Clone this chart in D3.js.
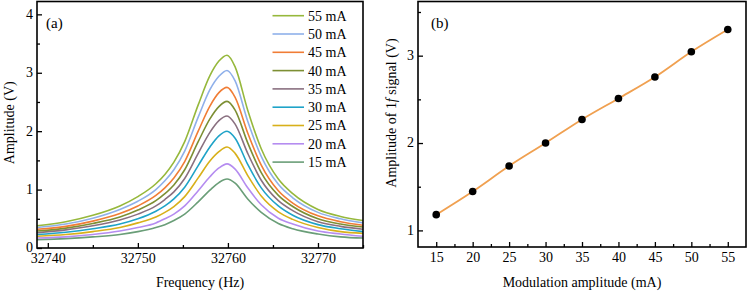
<!DOCTYPE html>
<html>
<head>
<meta charset="utf-8">
<script src="https://cdn.jsdelivr.net/npm/d3@7"></script>
<style>
  html, body { margin: 0; padding: 0; background: #fff; }
  svg { display: block; font-family: "Liberation Serif", "Times New Roman", serif; }
</style>
</head>
<body>
<svg id="chart" width="748" height="293"></svg>
<script>
// ---------- Data ----------
const freqs = [32738.8, 32742, 32745, 32748, 32750, 32752, 32753, 32754, 32755.2, 32756.7, 32758, 32759, 32759.9, 32760.8, 32762.2, 32763.7, 32765.6, 32767.2, 32770, 32772.5, 32775];

const seriesLabels = ["55 mA", "50 mA", "45 mA", "40 mA", "35 mA", "30 mA", "25 mA", "20 mA", "15 mA"];
const seriesColors = ["#96b83c", "#8fb0ea", "#f07d36", "#7d8f34", "#8a7080", "#1fa3c8", "#d8b01a", "#b58cf0", "#6a9e78"];

const amp55 = [0.38, 0.45, 0.56, 0.72, 0.88, 1.10, 1.26, 1.47, 1.82, 2.45, 2.95, 3.20, 3.30, 3.10, 2.36, 1.70, 1.18, 0.93, 0.66, 0.54, 0.47];
const amp50 = [0.35, 0.41, 0.51, 0.66, 0.80, 1.00, 1.15, 1.34, 1.66, 2.24, 2.71, 2.94, 3.04, 2.86, 2.17, 1.57, 1.09, 0.86, 0.61, 0.50, 0.43];
const amp45 = [0.32, 0.37, 0.46, 0.59, 0.72, 0.90, 1.03, 1.20, 1.48, 2.00, 2.43, 2.66, 2.75, 2.58, 1.97, 1.42, 0.98, 0.77, 0.55, 0.45, 0.39];
const amp40 = [0.29, 0.34, 0.42, 0.53, 0.65, 0.81, 0.93, 1.08, 1.34, 1.82, 2.21, 2.42, 2.51, 2.36, 1.80, 1.29, 0.90, 0.71, 0.50, 0.41, 0.36];
const amp35 = [0.26, 0.31, 0.38, 0.48, 0.58, 0.72, 0.83, 0.96, 1.19, 1.62, 1.98, 2.18, 2.26, 2.12, 1.62, 1.16, 0.81, 0.64, 0.45, 0.37, 0.32];
const amp30 = [0.23, 0.27, 0.33, 0.41, 0.50, 0.63, 0.72, 0.84, 1.04, 1.41, 1.73, 1.92, 2.00, 1.88, 1.43, 1.03, 0.72, 0.56, 0.40, 0.33, 0.28];
const amp25 = [0.20, 0.23, 0.28, 0.35, 0.43, 0.53, 0.61, 0.71, 0.88, 1.20, 1.49, 1.65, 1.73, 1.62, 1.24, 0.89, 0.62, 0.49, 0.35, 0.28, 0.25];
const amp20 = [0.17, 0.19, 0.23, 0.29, 0.35, 0.43, 0.50, 0.58, 0.72, 0.98, 1.22, 1.37, 1.44, 1.35, 1.03, 0.74, 0.51, 0.41, 0.29, 0.24, 0.20];
const amp15 = [0.14, 0.16, 0.19, 0.23, 0.28, 0.35, 0.40, 0.47, 0.58, 0.79, 0.99, 1.12, 1.18, 1.11, 0.84, 0.61, 0.42, 0.33, 0.24, 0.19, 0.17];

const modCurrents = [15, 20, 25, 30, 35, 40, 45, 50, 55];
const signal1f = [1.18, 1.445, 1.737, 2.00, 2.27, 2.51, 2.756, 3.045, 3.30];

const aXTicks = [32740, 32750, 32760, 32770];
const aXMinor = [32745, 32755, 32765, 32775];
const aYTicks = [0, 1, 2, 3, 4];
const aYMinor = [0.5, 1.5, 2.5, 3.5];
const bXTicks = [15, 20, 25, 30, 35, 40, 45, 50, 55];
const bXMinor = [17.5, 22.5, 27.5, 32.5, 37.5, 42.5, 47.5, 52.5];
const bYTicks = [1, 2, 3];
const bYMinor = [1.5, 2.5, 3.5];

const allAmps = [amp55, amp50, amp45, amp40, amp35, amp30, amp25, amp20, amp15];

// ---------- Drawing ----------
const svg = d3.select("#chart");
const FS = 14;

function frameAxes(g, x, y, L, R, T, B, xt, xm, yt, ym) {
  const gx = g.append("g").attr("transform", `translate(0,${B})`)
    .call(d3.axisBottom(x).tickValues(xt).tickFormat(d3.format("d")).tickSize(-5).tickPadding(5));
  const gxm = g.append("g").attr("transform", `translate(0,${B})`)
    .call(d3.axisBottom(x).tickValues(xm).tickFormat("").tickSize(-3));
  const gy = g.append("g").attr("transform", `translate(${L},0)`)
    .call(d3.axisLeft(y).tickValues(yt).tickFormat(d3.format("d")).tickSize(-5).tickPadding(4));
  const gym = g.append("g").attr("transform", `translate(${L},0)`)
    .call(d3.axisLeft(y).tickValues(ym).tickFormat("").tickSize(-3));
  [gx, gxm, gy, gym].forEach(a => {
    a.select(".domain").remove();
    a.selectAll("line").attr("stroke", "#000").attr("stroke-width", 1.3);
    a.selectAll("text").attr("font-size", FS).attr("fill", "#000")
      .attr("font-family", "'Liberation Serif', 'Times New Roman', serif");
  });
  gy.selectAll("text").attr("dy", "0.28em");
  g.append("rect").attr("x", L).attr("y", T).attr("width", R - L).attr("height", B - T)
    .attr("fill", "none").attr("stroke", "#000").attr("stroke-width", 1.6);
}

// Panel (a)
{
  const L = 37, R = 363, T = 1.5, B = 248;
  const x = d3.scaleLinear().domain([32738.8, 32775]).range([L, R]);
  const y = d3.scaleLinear().domain([0, 4.22]).range([B, T]);
  const g = svg.append("g");
  g.append("clipPath").attr("id", "clipA").append("rect")
    .attr("x", L).attr("y", T).attr("width", R - L).attr("height", B - T);
  const line = d3.line().x((d, i) => x(freqs[i])).y(d => y(d)).curve(d3.curveMonotoneX);
  const order = d3.range(allAmps.length).reverse();
  order.forEach(k => {
    g.append("path").datum(allAmps[k]).attr("d", line)
      .attr("clip-path", "url(#clipA)")
      .attr("fill", "none").attr("stroke", seriesColors[k]).attr("stroke-width", 1.6);
  });
  frameAxes(g, x, y, L, R, T, B, aXTicks, aXMinor, aYTicks, aYMinor);

  const lg = g.append("g");
  seriesLabels.forEach((lab, k) => {
    const yy = 15.7 + k * 18.3;
    lg.append("line").attr("x1", 272.5).attr("x2", 304).attr("y1", yy).attr("y2", yy)
      .attr("stroke", seriesColors[k]).attr("stroke-width", 1.6);
    lg.append("text").attr("x", 308).attr("y", yy).attr("dy", "0.35em")
      .attr("font-size", FS).text(lab);
  });
  g.append("text").attr("x", 46).attr("y", 23).attr("dy", "0.35em").attr("font-size", 15).text("(a)");
  g.append("text").attr("x", (L + R) / 2).attr("y", 287).attr("text-anchor", "middle")
    .attr("font-size", FS).text("Frequency (Hz)");
  g.append("text").attr("transform", `translate(14,${(T + B) / 2 - 2}) rotate(-90)`)
    .attr("text-anchor", "middle").attr("font-size", FS).text("Amplitude (V)");
}

// Panel (b)
{
  const L = 418, R = 746, T = 1.5, B = 247;
  const x = d3.scaleLinear().domain([12.5, 57.5]).range([L, R]);
  const y = d3.scaleLinear().domain([0.81, 3.62]).range([B, T]);
  const g = svg.append("g");
  const line = d3.line().x((d, i) => x(modCurrents[i])).y(d => y(d)).curve(d3.curveMonotoneX);
  g.append("path").datum(signal1f).attr("d", line)
    .attr("fill", "none").attr("stroke", "#f0a050").attr("stroke-width", 1.8);
  g.selectAll("circle.pt").data(signal1f).enter().append("circle")
    .attr("cx", (d, i) => x(modCurrents[i])).attr("cy", d => y(d)).attr("r", 3.8)
    .attr("fill", "#000");
  frameAxes(g, x, y, L, R, T, B, bXTicks, bXMinor, bYTicks, bYMinor);
  g.append("text").attr("x", 431).attr("y", 23).attr("dy", "0.35em").attr("font-size", 15).text("(b)");
  g.append("text").attr("x", (L + R) / 2).attr("y", 287).attr("text-anchor", "middle")
    .attr("font-size", FS).text("Modulation amplitude (mA)");
  const yl = g.append("text").attr("transform", `translate(396,113) rotate(-90)`)
    .attr("text-anchor", "middle").attr("font-size", FS);
  yl.append("tspan").text("Amplitude of 1");
  yl.append("tspan").attr("font-style", "italic").text("f");
  yl.append("tspan").text(" signal (V)");
}
</script>
</body>
</html>
